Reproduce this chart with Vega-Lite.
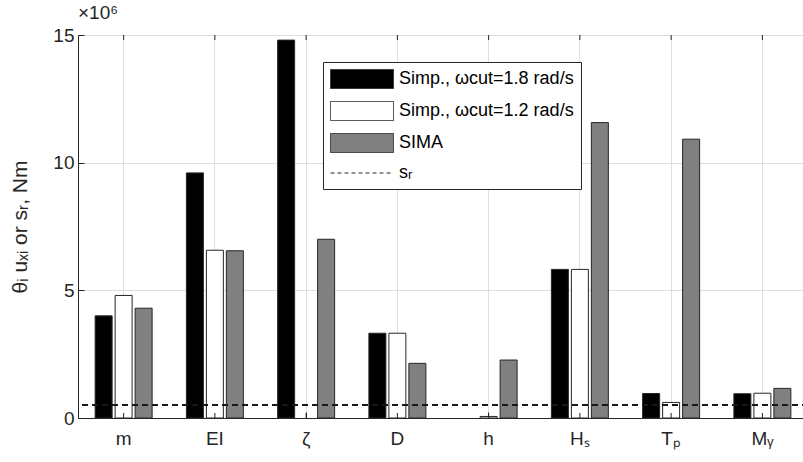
{
  "$schema": "https://vega.github.io/schema/vega-lite/v6.json",
  "width": 730,
  "height": 383,
  "autosize": {"type": "none"},
  "padding": {"left": 78, "top": 35, "right": 0, "bottom": 44},
  "background": "white",
  "title": {"text": "×10⁶", "anchor": "start", "frame": "group", "fontSize": 19, "fontWeight": "normal", "font": "Liberation Sans", "color": "#262626", "offset": 3},
  "config": {
    "font": "Liberation Sans",
    "view": {"stroke": "#262626", "strokeWidth": 1},
    "axis": {"domainColor": "#262626", "tickColor": "#262626", "labelColor": "#262626", "titleColor": "#262626", "labelFontSize": 19, "titleFontSize": 21, "labelFont": "Liberation Sans", "titleFont": "Liberation Sans", "titleFontWeight": "normal", "gridColor": "#dedede"},
    "legend": {
      "orient": "none", "legendX": 245, "legendY": 27, "strokeColor": "#262626", "fillColor": "white", "padding": 7,
      "labelFontSize": 18, "labelFont": "Liberation Sans", "labelColor": "#000000", "symbolSize": 361, "labelOffset": 49, "rowPadding": 8, "labelLimit": 400
    }
  },
  "data": {"values": [
    {"param": "m", "series": "Simp., ωcut=1.8 rad/s", "value": 4000000},
    {"param": "m", "series": "Simp., ωcut=1.2 rad/s", "value": 4800000},
    {"param": "m", "series": "SIMA", "value": 4300000},
    {"param": "EI", "series": "Simp., ωcut=1.8 rad/s", "value": 9600000},
    {"param": "EI", "series": "Simp., ωcut=1.2 rad/s", "value": 6570000},
    {"param": "EI", "series": "SIMA", "value": 6550000},
    {"param": "ζ", "series": "Simp., ωcut=1.8 rad/s", "value": 14800000},
    {"param": "ζ", "series": "SIMA", "value": 7000000},
    {"param": "D", "series": "Simp., ωcut=1.8 rad/s", "value": 3320000},
    {"param": "D", "series": "Simp., ωcut=1.2 rad/s", "value": 3320000},
    {"param": "D", "series": "SIMA", "value": 2140000},
    {"param": "h", "series": "Simp., ωcut=1.2 rad/s", "value": 60000},
    {"param": "h", "series": "SIMA", "value": 2270000},
    {"param": "Hₛ", "series": "Simp., ωcut=1.8 rad/s", "value": 5820000},
    {"param": "Hₛ", "series": "Simp., ωcut=1.2 rad/s", "value": 5820000},
    {"param": "Hₛ", "series": "SIMA", "value": 11570000},
    {"param": "Tₚ", "series": "Simp., ωcut=1.8 rad/s", "value": 960000},
    {"param": "Tₚ", "series": "Simp., ωcut=1.2 rad/s", "value": 610000},
    {"param": "Tₚ", "series": "SIMA", "value": 10920000},
    {"param": "Mᵧ", "series": "Simp., ωcut=1.8 rad/s", "value": 950000},
    {"param": "Mᵧ", "series": "Simp., ωcut=1.2 rad/s", "value": 970000},
    {"param": "Mᵧ", "series": "SIMA", "value": 1160000}
  ]},
  "layer": [
    {
      "mark": {"type": "bar", "stroke": "#262626", "strokeWidth": 1},
      "encoding": {
        "x": {"field": "param", "type": "nominal", "sort": ["m", "EI", "ζ", "D", "h", "Hₛ", "Tₚ", "Mᵧ"],
              "scale": {"paddingInner": 0.3425, "paddingOuter": 0.17125},
              "axis": {"orient": "bottom", "title": null, "labelAngle": 0, "grid": true, "tickSize": -6, "labelPadding": 17, "bandPosition": 0.5}},
        "xOffset": {"field": "series", "type": "nominal", "sort": ["Simp., ωcut=1.8 rad/s", "Simp., ωcut=1.2 rad/s", "SIMA"],
              "scale": {"paddingInner": 0.15, "paddingOuter": 0.075}},
        "y": {"field": "value", "type": "quantitative", "scale": {"domain": [0, 15000000], "nice": false},
              "axis": {"orient": "left", "values": [0, 5000000, 10000000, 15000000], "labelExpr": "format(datum.value/1000000,'d')", "grid": true, "tickSize": -6, "labelPadding": 10, "title": "θᵢ uₓᵢ or sᵣ, Nm", "titlePadding": 22}},
        "fill": {"field": "series", "type": "nominal",
              "scale": {"domain": ["Simp., ωcut=1.8 rad/s", "Simp., ωcut=1.2 rad/s", "SIMA", "sᵣ"], "range": ["#000000", "#ffffff", "#808080", "#000000"]},
              "legend": {"title": null,
                "symbolType": {"expr": "datum.value === 'sᵣ' ? 'M-1,0H5.63' : 'M-1,-1H5.63V1H-1Z'"},
                "symbolDash": {"expr": "datum.value === 'sᵣ' ? [4,3] : [1,0]"},
                "symbolStrokeColor": "#262626",
                "symbolStrokeWidth": 1,
                "symbolOpacity": 1}}
      }
    },
    {
      "mark": {"type": "rule", "color": "#1a1a1a", "strokeDash": [6, 4], "strokeWidth": 1.2},
      "encoding": {
        "y": {"datum": 500000, "type": "quantitative"}
      }
    },
    {
      "transform": [{"aggregate": [{"op": "count", "as": "n"}], "groupby": ["param"]}],
      "mark": {"type": "tick", "orient": "vertical", "size": 10, "thickness": 1, "color": "#262626", "opacity": 1, "clip": true},
      "encoding": {
        "x": {"field": "param", "type": "nominal", "sort": ["m", "EI", "ζ", "D", "h", "Hₛ", "Tₚ", "Mᵧ"]},
        "y": {"datum": 0, "type": "quantitative"}
      }
    },
    {
      "transform": [{"aggregate": [{"op": "count", "as": "n"}], "groupby": ["param"]}],
      "mark": {"type": "tick", "orient": "vertical", "size": 10, "thickness": 1, "color": "#262626", "opacity": 1, "clip": true},
      "encoding": {
        "x": {"field": "param", "type": "nominal", "sort": ["m", "EI", "ζ", "D", "h", "Hₛ", "Tₚ", "Mᵧ"]},
        "y": {"datum": 15000000, "type": "quantitative"}
      }
    }
  ]
}
